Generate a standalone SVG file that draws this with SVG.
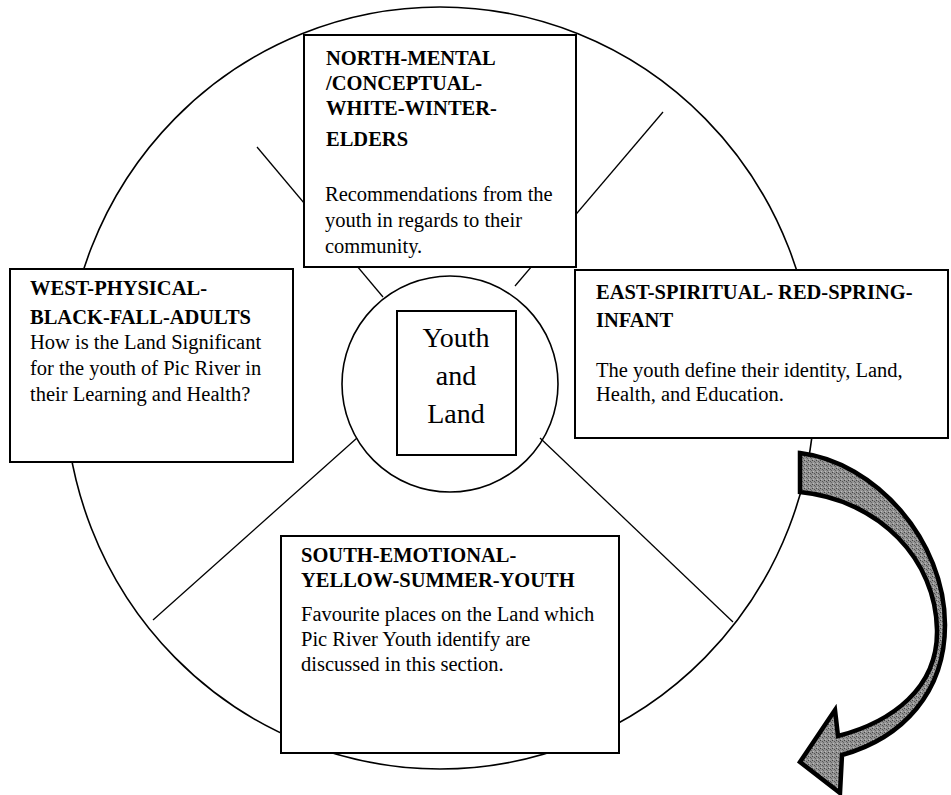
<svg xmlns="http://www.w3.org/2000/svg" width="951" height="795" viewBox="0 0 951 795">
<style>
.ln{fill:none;stroke:#000;stroke-width:1.6}
.sp{fill:none;stroke:#000;stroke-width:1.3}
.box{fill:#fff;stroke:#000;stroke-width:2}
text{font-family:'Liberation Serif',Times,serif;font-size:20.5px;fill:#000}
.h{font-weight:bold}
.c{font-size:28px;text-anchor:middle}
</style>
<defs>
<pattern id="stip" width="4" height="4" patternUnits="userSpaceOnUse">
<rect width="4" height="4" fill="#949494"/>
<rect x="0" y="0" width="1" height="1" fill="#444"/>
<rect x="2" y="1" width="1" height="1" fill="#555"/>
<rect x="1" y="3" width="1" height="1" fill="#bbb"/>
<rect x="3" y="2" width="1" height="1" fill="#666"/>
</pattern>
</defs>
<rect width="951" height="795" fill="#fff"/>
<g id="connectors">
<ellipse class="ln" cx="440" cy="388" rx="375" ry="381"/>
<line class="sp" x1="257" y1="147" x2="383" y2="297"/>
<line class="sp" x1="663" y1="112" x2="515" y2="286"/>
<line class="sp" x1="357" y1="438" x2="153" y2="620"/>
<line class="sp" x1="540" y1="438" x2="733" y2="622"/>
</g>
<g id="center">
<circle class="ln" cx="450" cy="384" r="108" fill="#fff"/>
<rect class="box" x="397" y="311" width="119" height="144"/>
<text class="c" x="456" y="347">Youth</text>
<text class="c" x="456" y="385">and</text>
<text class="c" x="456" y="423">Land</text>
</g>
<g id="north">
<rect class="box" x="304" y="35" width="272" height="232"/>
<text class="h" x="326" y="65">NORTH-MENTAL</text>
<text class="h" x="326" y="90">/CONCEPTUAL-</text>
<text class="h" x="326" y="115">WHITE-WINTER-</text>
<text class="h" x="326" y="146">ELDERS</text>
<text x="325" y="201">Recommendations from the</text>
<text x="325" y="227">youth in regards to their</text>
<text x="325" y="253">community.</text>
</g>
<g id="west">
<rect class="box" x="10" y="269" width="283" height="193"/>
<text class="h" x="30" y="295">WEST-PHYSICAL-</text>
<text class="h" x="30" y="324">BLACK-FALL-ADULTS</text>
<text x="30" y="349">How is the Land Significant</text>
<text x="30" y="375">for the youth of Pic River in</text>
<text x="30" y="401">their Learning and Health?</text>
</g>
<g id="east">
<rect class="box" x="575" y="270" width="373" height="168"/>
<text class="h" x="596" y="299">EAST-SPIRITUAL- RED-SPRING-</text>
<text class="h" x="596" y="327">INFANT</text>
<text x="596" y="377">The youth define their identity, Land,</text>
<text x="596" y="401">Health, and Education.</text>
</g>
<g id="south">
<rect class="box" x="281" y="536" width="338" height="217"/>
<text class="h" x="301" y="562">SOUTH-EMOTIONAL-</text>
<text class="h" x="301" y="587">YELLOW-SUMMER-YOUTH</text>
<text x="301" y="621">Favourite places on the Land which</text>
<text x="301" y="646">Pic River Youth identify are</text>
<text x="301" y="671">discussed in this section.</text>
</g>
<g id="arrow">
<path d="M800,453 C875,462 945,540 945,625 C945,692 903,738 842,755 L840,793 L800,762 L835,710 L838,736 C892,722 938,688 937,630 C936,560 880,500 800,492 Z" fill="url(#stip)" stroke="#000" stroke-width="4.5" stroke-linejoin="miter"/>
</g>
</svg>
